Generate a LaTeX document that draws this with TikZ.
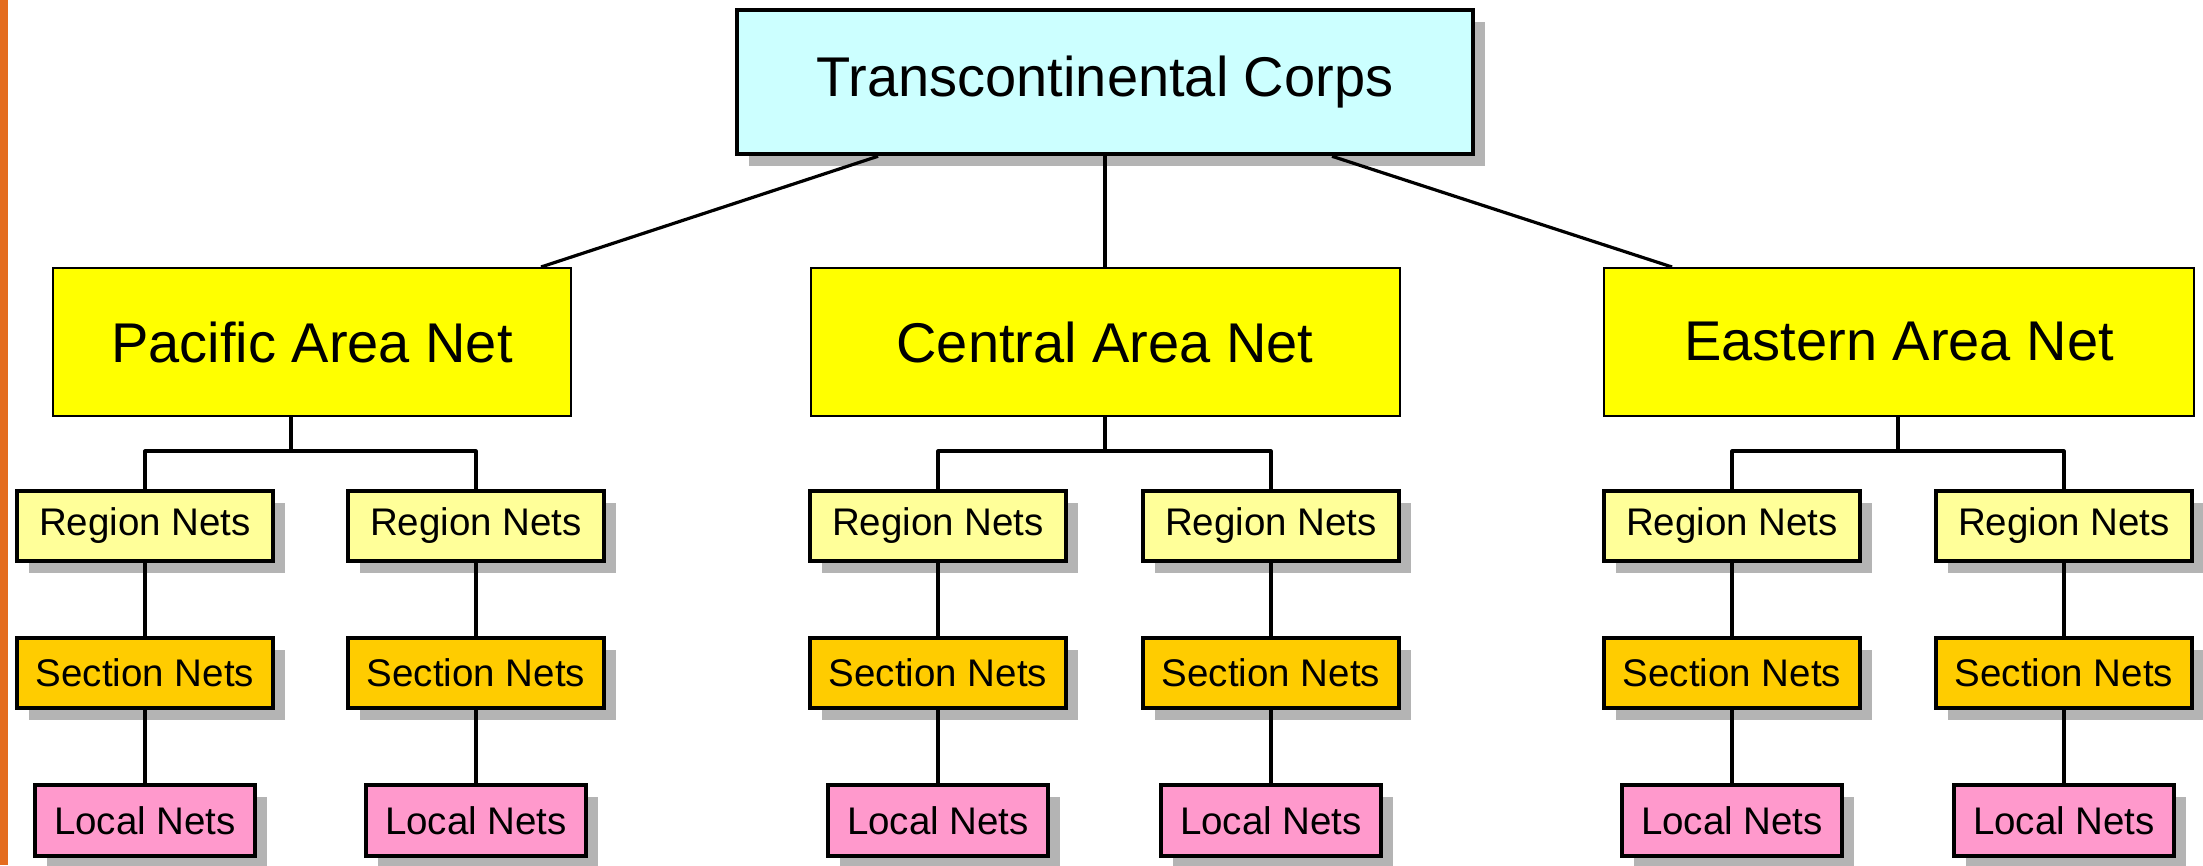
\documentclass[tikz,border=0pt]{standalone}
\usepackage{fontspec}
\setmainfont{Liberation Sans}
\usetikzlibrary{shadows}
\definecolor{topfill}{HTML}{CCFFFF}
\definecolor{areafill}{HTML}{FFFF00}
\definecolor{regionfill}{HTML}{FFFF99}
\definecolor{sectionfill}{HTML}{FFCC00}
\definecolor{localfill}{HTML}{FF99CC}
\definecolor{shadowgray}{HTML}{B4B4B4}
\definecolor{stripe}{HTML}{E46C1E}
\tikzset{
  x=1pt, y=-1pt,
  box/.style={rectangle, draw=black, inner sep=0pt, align=center, font=\fontsize{38.5}{46}\selectfont},
  shad/.style={general shadow={fill=shadowgray, shadow xshift=12pt, shadow yshift=-12pt}},
  topbox/.style={box, shad, fill=topfill, line width=4.5pt, minimum width=736pt, minimum height=144pt, font=\fontsize{56}{67}\selectfont},
  areabox/.style={box, fill=areafill, line width=2pt, minimum height=148pt, font=\fontsize{56}{67}\selectfont},
  regionbox/.style={box, shad, fill=regionfill, line width=3.2pt, minimum width=256pt, minimum height=70pt},
  sectionbox/.style={box, shad, fill=sectionfill, line width=3.2pt, minimum width=256pt, minimum height=70pt},
  localbox/.style={box, shad, fill=localfill, line width=3.2pt, minimum width=220pt, minimum height=71pt},
  link/.style={draw=black, line width=3.2pt},
}
\begin{document}
\begin{tikzpicture}
\useasboundingbox (0,0) rectangle (2203,865);
\fill[white] (0,0) rectangle (2203,865);
\fill[stripe] (0,0) rectangle (8,865);

\node[topbox] (top) at (1105,82) {Transcontinental Corps};

\node[areabox, minimum width=518pt] (pac) at (312,342) {Pacific Area Net};
\node[areabox, minimum width=589pt] (cen) at (1105,342) {Central Area Net};
\node[areabox, minimum width=590pt] (eas) at (1899,342) {Eastern Area Net};

% Pacific
\node[regionbox] (pr1) at (145,526) {Region Nets};
\node[regionbox] (pr2) at (476,526) {Region Nets};
\node[sectionbox] (ps1) at (145,673) {Section Nets};
\node[sectionbox] (ps2) at (476,673) {Section Nets};
\node[localbox] (pl1) at (145,820.5) {Local Nets};
\node[localbox] (pl2) at (476,820.5) {Local Nets};
% Central
\node[regionbox] (cr1) at (938,526) {Region Nets};
\node[regionbox] (cr2) at (1271,526) {Region Nets};
\node[sectionbox] (cs1) at (938,673) {Section Nets};
\node[sectionbox] (cs2) at (1271,673) {Section Nets};
\node[localbox] (cl1) at (938,820.5) {Local Nets};
\node[localbox] (cl2) at (1271,820.5) {Local Nets};
% Eastern
\node[regionbox] (er1) at (1732,526) {Region Nets};
\node[regionbox] (er2) at (2064,526) {Region Nets};
\node[sectionbox] (es1) at (1732,673) {Section Nets};
\node[sectionbox] (es2) at (2064,673) {Section Nets};
\node[localbox] (el1) at (1732,820.5) {Local Nets};
\node[localbox] (el2) at (2064,820.5) {Local Nets};

% top connectors
\draw[link] ([xshift=-227pt]top.south) -- ([xshift=229pt]pac.north);
\draw[link] (top.south) -- (cen.north);
\draw[link] ([xshift=227pt]top.south) -- ([xshift=-227pt]eas.north);

% buses
\coordinate (pbus) at (291,451);
\coordinate (cbus) at (1105,451);
\coordinate (ebus) at (1898,451);
\draw[link] ([xshift=-21pt]pac.south) -- (pbus);
\draw[link] (cen.south) -- (cbus);
\draw[link] ([xshift=-1pt]eas.south) -- (ebus);
\draw[link, line join=round] (pr1.north) |- (pr2.north |- pbus) -- (pr2.north);
\draw[link, line join=round] (cr1.north) |- (cr2.north |- cbus) -- (cr2.north);
\draw[link, line join=round] (er1.north) |- (er2.north |- ebus) -- (er2.north);

% chains
\foreach \a/\b/\c in {pr1/ps1/pl1, pr2/ps2/pl2, cr1/cs1/cl1, cr2/cs2/cl2, er1/es1/el1, er2/es2/el2}{
  \draw[link] (\a.south) -- (\b.north);
  \draw[link] (\b.south) -- (\c.north);
}
\end{tikzpicture}
\end{document}
